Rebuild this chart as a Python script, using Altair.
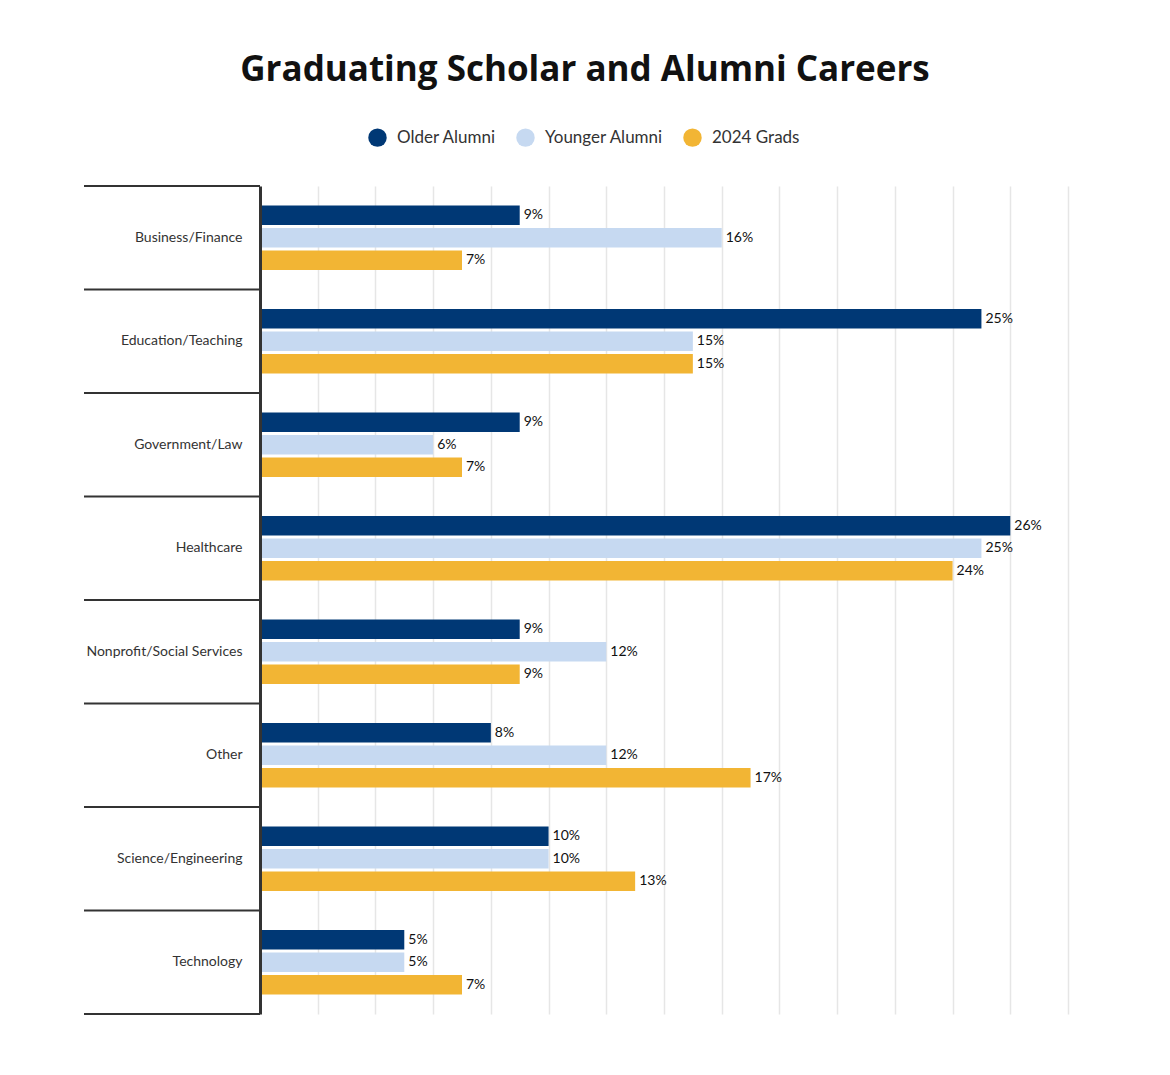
import altair as alt
import pandas as pd

categories = ["Business/Finance", "Education/Teaching", "Government/Law", "Healthcare",
              "Nonprofit/Social Services", "Other", "Science/Engineering", "Technology"]
series = ["Older Alumni", "Younger Alumni", "2024 Grads"]
older = [9, 25, 9, 26, 9, 8, 10, 5]
younger = [16, 15, 6, 25, 12, 12, 10, 5]
grads = [7, 15, 7, 24, 9, 17, 13, 7]
colors = ["#003875", "#c6d9f1", "#f2b534"]
grid_ticks = list(range(2, 29, 2))

rows = []
for i, c in enumerate(categories):
    for s, vals in zip(series, [older, younger, grads]):
        rows.append({"category": c, "series": s, "value": vals[i], "label": f"{vals[i]}%"})
df = pd.DataFrame(rows)
cat_df = pd.DataFrame({"category": categories})
one_df = pd.DataFrame({"k": [0]})

W, H = 808, 828
LABEL_FONT = "Lato"

y = alt.Y("category:N", sort=categories, scale=alt.Scale(paddingInner=0, paddingOuter=0),
          axis=alt.Axis(title=None, ticks=False, domain=True, domainColor="#333333", domainWidth=3,
                        labelFont=LABEL_FONT, labelFontSize=14, labelColor="#333333",
                        labelPadding=18, labelLimit=300, zindex=1))
yoff = alt.YOffset("series:N", sort=series, scale=alt.Scale(paddingInner=0.133, paddingOuter=0.867))
x = alt.X("value:Q", scale=alt.Scale(domain=[0, 28], nice=False, zero=True),
          axis=alt.Axis(title=None, labels=False, ticks=False, domain=False, values=grid_ticks,
                        grid=True, gridColor="#e6e6e6", gridWidth=1.5))
color = alt.Color("series:N", sort=series, scale=alt.Scale(domain=series, range=colors),
                  legend=alt.Legend(title=None, orient="none", direction="horizontal",
                                    legendX=108, legendY=-58, symbolType="circle", symbolSize=340,
                                    symbolStrokeWidth=0, labelFont=LABEL_FONT, labelFontSize=17,
                                    labelColor="#333333", labelOffset=10, columnPadding=19, padding=0))

bars = alt.Chart(df).mark_bar().encode(x=x, y=y, yOffset=yoff, color=color)
labels = alt.Chart(df).mark_text(align="left", baseline="middle", dx=4, font=LABEL_FONT,
                                 fontSize=14, color="#111111").encode(
    x="value:Q", y=alt.Y("category:N", sort=categories),
    yOffset=alt.YOffset("series:N", sort=series), text="label:N")
seps = alt.Chart(cat_df).mark_rule(color="#333333", strokeWidth=2).encode(
    x=alt.value(-176), x2=alt.value(0), y=alt.Y("category:N", sort=categories, bandPosition=0))
bottom = alt.Chart(one_df).mark_rule(color="#333333", strokeWidth=2).encode(
    x=alt.value(-176), x2=alt.value(0), y=alt.value(H))

chart = alt.layer(bars, labels, seps, bottom).properties(
    width=W, height=H,
    autosize="none",
    padding={"left": 252, "top": 178, "right": 94, "bottom": 53},
    title=alt.TitleParams("Graduating Scholar and Alumni Careers", font="Open Sans", fontSize=35,
                          fontWeight="bold", color="#111111", anchor="middle", frame="group",
                          dx=-79, offset=5, baseline="bottom"),
).configure_view(stroke=None)

chart.save("out.html", embed_options={"renderer": "svg", "actions": False})
